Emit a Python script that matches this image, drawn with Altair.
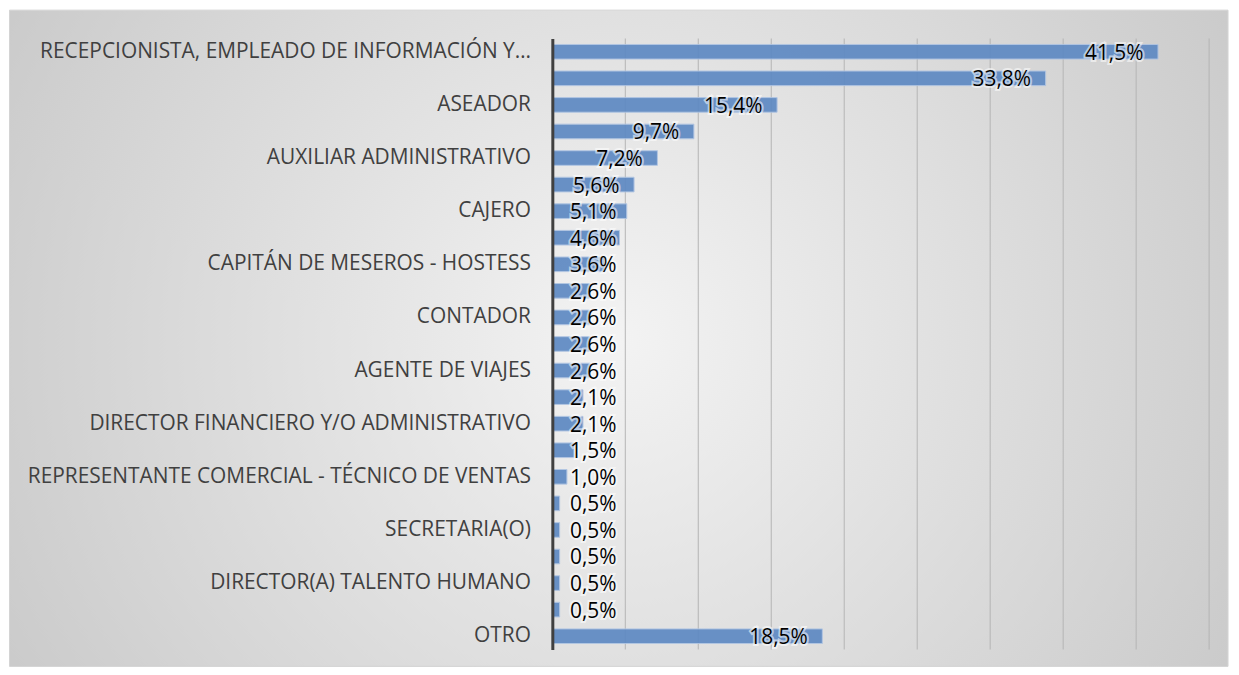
import json
import altair as alt
import pandas as pd

labels = [
    "RECEPCIONISTA, EMPLEADO DE INFORMACIÓN Y…", "", "ASEADOR", "",
    "AUXILIAR ADMINISTRATIVO", "", "CAJERO", "",
    "CAPITÁN DE MESEROS - HOSTESS", "", "CONTADOR", "",
    "AGENTE DE VIAJES", "", "DIRECTOR FINANCIERO Y/O ADMINISTRATIVO", "",
    "REPRESENTANTE COMERCIAL - TÉCNICO DE VENTAS", "", "SECRETARIA(O)", "",
    "DIRECTOR(A) TALENTO HUMANO", "", "OTRO",
]
values = [41.5, 33.8, 15.4, 9.7, 7.2, 5.6, 5.1, 4.6, 3.6, 2.6, 2.6, 2.6,
          2.6, 2.1, 2.1, 1.5, 1.0, 0.5, 0.5, 0.5, 0.5, 0.5, 18.5]
grid_ticks = [5, 10, 15, 20, 25, 30, 35, 40, 45]

df = pd.DataFrame({"idx": list(range(len(values))), "cat": labels, "pct": values})
grid_df = pd.DataFrame({"g": grid_ticks})

PLOT_W, PLOT_H = 660, 614
PAD_L, PAD_T, PAD_R, PAD_B = 547, 29, 22, 24

label_expr = "[" + ",".join(json.dumps(l) for l in labels) + "][datum.value]"

x_scale = alt.Scale(domain=[0, 45], nice=False, zero=True)
y_scale = alt.Scale(paddingInner=0.45, paddingOuter=0.225)

# background frame with radial gradient
bg = alt.Chart(alt.Data(values=[{"k": 1}])).mark_rect(
    fill=alt.Gradient(
        gradient="radial",
        stops=[alt.GradientStop(offset=0, color="#f3f3f3"),
               alt.GradientStop(offset=1, color="#c0c0c0")],
        x1=0.5, y1=0.5, x2=0.5, y2=0.5, r1=0, r2=0.72,
    ),
    stroke="#d4d4d4", strokeWidth=1,
).encode(
    x=alt.value(-PAD_L + 1.5), x2=alt.value(PLOT_W + 19),
    y=alt.value(-PAD_T + 0.5), y2=alt.value(PLOT_H + 17),
)

grid = alt.Chart(grid_df).mark_rule(color="#b4b4b4", strokeWidth=1).encode(
    x=alt.X("g:Q", scale=x_scale, axis=None),
)

base = alt.Chart(df)

bars = base.mark_bar(
    color="#5f8ac3", opacity=0.93, stroke="#aec4e2", strokeWidth=1,
).encode(
    x=alt.X("pct:Q", scale=x_scale, axis=None),
    y=alt.Y("idx:O", scale=y_scale, sort="ascending",
            axis=alt.Axis(labelExpr=label_expr, title=None, ticks=False,
                          domain=True, domainColor="#404040", domainWidth=3,
                          labelFont="Open Sans", labelFontSize=21,
                          labelColor="#404040", labelPadding=22,
                          labelLimit=600, grid=False, zindex=2)),
)

txt_base = base.transform_calculate(
    lx="max(datum.pct - 1.0, 4.4)",
    lbl="replace(format(datum.pct, '.1f'), '.', ',') + '%'",
)

halo = txt_base.mark_text(
    align="right", baseline="middle", font="Open Sans", fontSize=21,
    stroke="white", strokeWidth=4, strokeOpacity=0.55, fill="white", fillOpacity=0.6,
    dy=2,
).encode(
    x=alt.X("lx:Q", scale=x_scale),
    y=alt.Y("idx:O", scale=y_scale, sort="ascending"),
    text="lbl:N",
)

txt = txt_base.mark_text(
    align="right", baseline="middle", font="Open Sans", fontSize=21, color="#000000",
    dy=2,
).encode(
    x=alt.X("lx:Q", scale=x_scale),
    y=alt.Y("idx:O", scale=y_scale, sort="ascending"),
    text="lbl:N",
)

chart = alt.layer(bg, grid, bars, halo, txt).properties(
    width=PLOT_W, height=PLOT_H,
    autosize=alt.AutoSizeParams(type="none"),
    padding={"left": PAD_L, "top": PAD_T, "right": PAD_R, "bottom": PAD_B},
    background="white",
).configure_view(stroke=None)

chart.save("out.html", embed_options={"renderer": "svg", "actions": False})
